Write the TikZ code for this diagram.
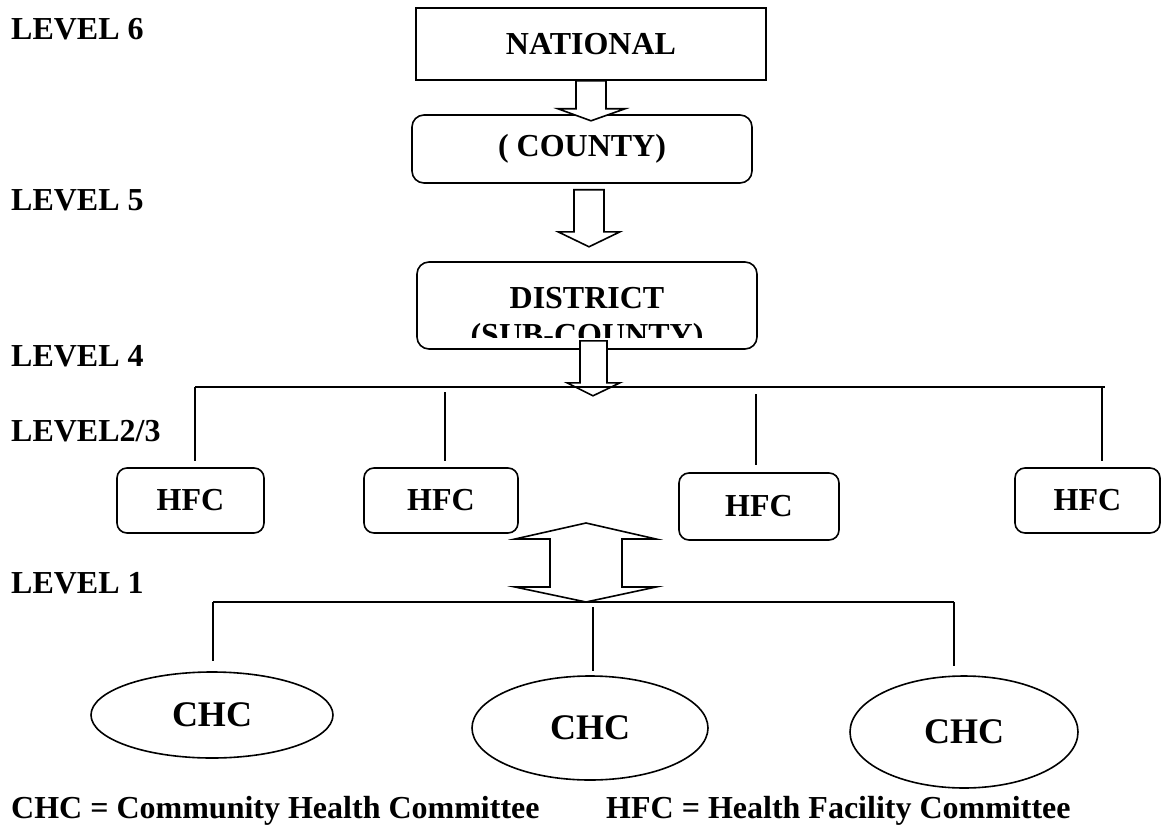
\documentclass[tikz,border=0pt]{standalone}
\usepackage{fontspec}
\setmainfont{Liberation Serif}
\usetikzlibrary{shapes.geometric}

\begin{document}
\begin{tikzpicture}[x=1pt, y=-1pt,
  every node/.style={font=\bfseries\fontsize{32}{36}\selectfont, inner sep=0pt},
  box/.style={draw, line width=1.6pt},
  roundbox/.style={box, rounded corners=12pt},
  hfcbox/.style={box, rounded corners=10pt, minimum height=65pt},
  chc/.style={box, ellipse, font=\bfseries\fontsize{36}{40}\selectfont},
  bigarrow/.style={draw, fill=white, line width=1.6pt},
  link/.style={line width=1.6pt},
  level/.style={anchor=base west}]
\useasboundingbox (0,0) rectangle (1161,829);

\node[level] (l6) at (11,40) {LEVEL 6};
\node[level] (l5) at (11,210) {LEVEL 5};
\node[level] (l4) at (11,366) {LEVEL 4};
\node[level] (l23) at (11,441) {LEVEL2/3};
\node[level] (l1) at (11,593) {LEVEL 1};

\node[box, minimum width=350pt, minimum height=72pt] (national) at (591,44) {NATIONAL};
\node[roundbox, minimum width=340pt, minimum height=68pt] (county) at (582,149) {( COUNTY)};
\node[roundbox, minimum width=340pt, minimum height=87pt] (district) at (587,305.5) {};
\node[anchor=base] (dname) at (587,308) {DISTRICT};
\begin{scope}
  \clip (district.north west) rectangle ([yshift=12pt]district.south east);
  \node[anchor=base] (dsub) at (587,345) {(SUB-COUNTY)};
\end{scope}

\node[hfcbox, minimum width=147pt] (hfc1) at (190.5,500.5) {HFC};
\node[hfcbox, minimum width=154pt] (hfc2) at (441,500.5) {HFC};
\node[hfcbox, minimum width=160pt, minimum height=67pt] (hfc3) at (759,506.5) {HFC};
\node[hfcbox, minimum width=145pt] (hfc4) at (1087.5,500.5) {HFC};

\node[chc, minimum width=242pt, minimum height=86pt] (chc1) at (212,715) {CHC};
\node[chc, minimum width=236pt, minimum height=104pt] (chc2) at (590,728) {CHC};
\node[chc, minimum width=228pt, minimum height=112pt] (chc3) at (964,732) {CHC};

\draw[bigarrow] ([xshift=-15pt]national.south) -- ++(0,28) -- ++(-18,0) -- ++(33,12) -- ++(34,-12) -- ++(-19,0) -- ++(0,-28) -- cycle;
\draw[bigarrow] ([xshift=-8pt,yshift=-6pt]county.south) -- ++(0,42) -- ++(-16,0) -- ++(31,15) -- ++(31,-15) -- ++(-16,0) -- ++(0,-42) -- cycle;
\draw[bigarrow] ([xshift=-7pt,yshift=9pt]district.south) -- ++(0,42) -- ++(-13,0) -- ++(26,13) -- ++(27,-13) -- ++(-13,0) -- ++(0,-42) -- cycle;

\coordinate (bus1l) at (195,387);
\coordinate (bus1r) at (1105,387);
\coordinate (t2) at (445,387);
\coordinate (t3) at (756,387);
\coordinate (t4) at (1102,387);
\draw[link] (bus1l) -- (bus1r);
\draw[link, shorten >=6pt] (bus1l) -- (bus1l |- hfc1.north);
\draw[link, shorten <=5pt, shorten >=6pt] (t2) -- (t2 |- hfc2.north);
\draw[link, shorten <=7pt, shorten >=7pt] (t3) -- (t3 |- hfc3.north);
\draw[link, shorten >=6pt] (t4) -- (t4 |- hfc4.north);

\coordinate (mid2) at (586,602);
\draw[bigarrow] (mid2) -- ++(-71,-15) -- ++(35,0) -- ++(0,-48) -- ++(-35,0) -- ++(71,-16) -- ++(70,16) -- ++(-34,0) -- ++(0,48) -- ++(34,0) -- cycle;

\coordinate (bus2l) at (213,602);
\coordinate (bus2r) at (954,602);
\coordinate (s2) at (593,602);
\draw[link] (bus2l) -- (bus2r);
\draw[link, shorten >=10pt] (bus2l) -- (bus2l |- chc1.north);
\draw[link, shorten <=5pt, shorten >=4pt] (s2) -- (s2 |- chc2.north);
\draw[link, shorten >=9pt] (bus2r) -- (bus2r |- chc3.north);

\node[anchor=base west] (key1) at (11,818) {CHC = Community Health Committee};
\node[anchor=base west] (key2) at (606,818) {HFC = Health Facility Committee};
\end{tikzpicture}
\end{document}
